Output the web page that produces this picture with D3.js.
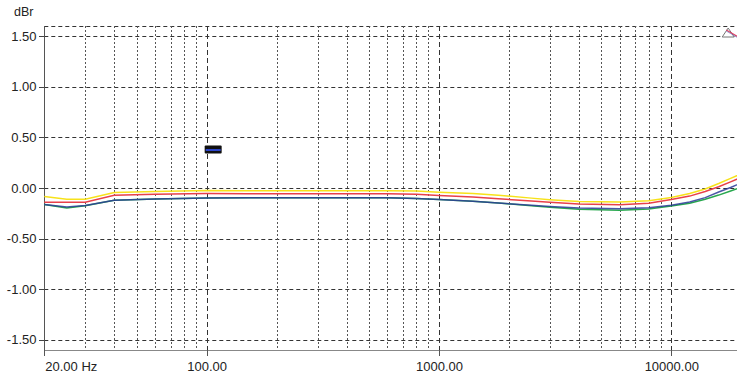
<!DOCTYPE html>
<html><head><meta charset="utf-8">
<script src="https://cdn.jsdelivr.net/npm/d3@7"></script>
<style>html,body{margin:0;padding:0;background:#fff;overflow:hidden}svg{display:block}</style>
</head><body><svg id="c" width="737" height="379"></svg>
<script>
const freqs = [20, 25, 30, 40, 60, 100, 150, 300, 600, 800, 1000, 1400, 1800, 2500, 3000, 4000, 6000, 8000, 10000, 12000, 14000, 16000, 18000, 20000];
const yellow = [-0.085, -0.11, -0.11, -0.045, -0.035, -0.025, -0.028, -0.028, -0.028, -0.03, -0.042, -0.055, -0.072, -0.10, -0.115, -0.133, -0.138, -0.125, -0.094, -0.055, -0.01, 0.044, 0.095, 0.14];
const red = [-0.14, -0.14, -0.14, -0.072, -0.062, -0.055, -0.057, -0.057, -0.057, -0.062, -0.075, -0.09, -0.106, -0.128, -0.14, -0.157, -0.165, -0.15, -0.114, -0.08, -0.035, 0.012, 0.06, 0.105];
const green = [-0.163, -0.197, -0.175, -0.121, -0.108, -0.098, -0.096, -0.096, -0.096, -0.103, -0.114, -0.13, -0.148, -0.175, -0.19, -0.21, -0.22, -0.207, -0.178, -0.15, -0.112, -0.07, -0.03, 0.008];
const blue = [-0.163, -0.187, -0.173, -0.121, -0.108, -0.098, -0.096, -0.096, -0.096, -0.103, -0.114, -0.13, -0.148, -0.17, -0.182, -0.198, -0.205, -0.195, -0.17, -0.138, -0.095, -0.04, 0.005, 0.05];
const yTicks = [1.5, 1.0, 0.5, 0.0, -0.5, -1.0, -1.5];
const xMajor = [20, 100, 1000, 10000];
const xLabels = ["20.00 Hz", "100.00", "1000.00", "10000.00"];
const xMinor = [30,40,50,60,70,80,90,200,300,400,500,600,700,800,900,2000,3000,4000,5000,6000,7000,8000,9000];
const marker = {f: 100, v: 0.38};

const svg = d3.select("#c");
const x = d3.scaleLog().domain([20, 20000]).range([44.3, 741.2]);
const y = d3.scaleLinear().domain([-1.6, 1.6]).range([350, 26]);
const font = "'Liberation Sans', Arial, sans-serif";

// horizontal grid
svg.append("g").selectAll("line").data(yTicks.concat([1.6])).join("line")
  .attr("x1", x(20)).attr("x2", 737)
  .attr("y1", d => Math.round(y(d)) + 0.5).attr("y2", d => Math.round(y(d)) + 0.5)
  .attr("stroke", "#333").attr("stroke-width", 1).attr("stroke-dasharray", "4,3");

// minor vertical grid
svg.append("g").selectAll("line").data(xMinor).join("line")
  .attr("x1", d => Math.round(x(d)) + 0.5).attr("x2", d => Math.round(x(d)) + 0.5)
  .attr("y1", y(1.6)).attr("y2", y(-1.6))
  .attr("stroke", "#555").attr("stroke-width", 1).attr("stroke-dasharray", "2,2");

// major vertical grid
svg.append("g").selectAll("line").data(xMajor.slice(1)).join("line")
  .attr("x1", d => Math.round(x(d)) + 0.5).attr("x2", d => Math.round(x(d)) + 0.5)
  .attr("y1", y(1.6)).attr("y2", y(-1.6))
  .attr("stroke", "#333").attr("stroke-width", 1).attr("stroke-dasharray", "5,3");

// axes lines
svg.append("line").attr("x1", 44.5).attr("x2", 44.5).attr("y1", y(1.6)).attr("y2", y(-1.6))
  .attr("stroke", "#555").attr("stroke-width", 1);
svg.append("line").attr("x1", 44).attr("x2", 737).attr("y1", 350.5).attr("y2", 350.5)
  .attr("stroke", "#888").attr("stroke-width", 1.2);

// y ticks & labels
svg.append("g").selectAll("line").data(yTicks).join("line")
  .attr("x1", 39).attr("x2", 44.5)
  .attr("y1", d => Math.round(y(d)) + 0.5).attr("y2", d => Math.round(y(d)) + 0.5)
  .attr("stroke", "#444");
svg.append("g").selectAll("text").data(yTicks).join("text")
  .attr("x", 36.5).attr("y", d => y(d) + 4.6)
  .attr("text-anchor", "end").attr("font-family", font).attr("font-size", 13).attr("fill", "#222")
  .text(d => d.toFixed(2));

// x ticks & labels
svg.append("g").selectAll("line").data(xMajor).join("line")
  .attr("x1", d => Math.round(x(d)) + 0.5).attr("x2", d => Math.round(x(d)) + 0.5)
  .attr("y1", 350).attr("y2", 356)
  .attr("stroke", "#555");
svg.append("g").selectAll("text").data(xMajor).join("text")
  .attr("x", (d, i) => i === 0 ? x(d) + 1 : x(d) + 0.5).attr("y", 371)
  .attr("text-anchor", (d, i) => i === 0 ? "start" : "middle")
  .attr("font-family", font).attr("font-size", 13).attr("fill", "#222")
  .text((d, i) => xLabels[i]);

svg.append("text").attr("x", 14).attr("y", 16).attr("font-family", font).attr("font-size", 12.5)
  .attr("fill", "#222").text("dBr");

// series
const line = d3.line().x((d, i) => x(freqs[i])).y(d => y(d));
const series = [
  {vals: yellow, color: "#f7e21a", op: 1},
  {vals: red, color: "#e8404a", op: 1},
  {vals: green, color: "#28a84e", op: 1},
  {vals: blue, color: "#2b3a98", op: 0.85}
];
svg.append("g").selectAll("path").data(series).join("path")
  .attr("d", d => line(d.vals)).attr("fill", "none")
  .attr("stroke", d => d.color).attr("stroke-width", 1.5).attr("stroke-opacity", d => d.op);

// cursor marker
const mx = x(marker.f), my = y(marker.v);
svg.append("rect").attr("x", mx - 2).attr("y", my - 4).attr("width", 17).attr("height", 8)
  .attr("fill", "#111").attr("rx", 1);
svg.append("line").attr("x1", mx - 1).attr("x2", mx + 14).attr("y1", my + 0.5).attr("y2", my + 0.5)
  .attr("stroke", "#2c44c8").attr("stroke-width", 2);

// triangle marker at top-right
const tx = x(20000) - 13, ty = y(1.6);
svg.append("path").attr("d", `M${tx},${ty + 2} L${tx - 6},${ty + 11} L${tx + 6},${ty + 11} Z`)
  .attr("fill", "#fff").attr("stroke", "#777").attr("stroke-width", 1);
svg.append("line").attr("x1", tx - 2).attr("y1", ty + 4).attr("x2", tx + 10).attr("y2", ty + 11)
  .attr("stroke", "#e04060").attr("stroke-width", 1.2);
svg.append("line").attr("x1", tx - 2).attr("y1", ty + 5).attr("x2", tx + 10).attr("y2", ty + 12)
  .attr("stroke", "#6070c0").attr("stroke-width", 0.6);
</script></body></html>
